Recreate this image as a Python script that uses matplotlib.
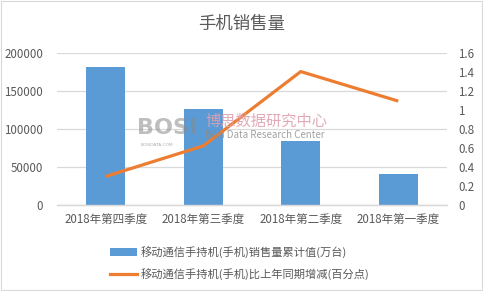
import matplotlib
matplotlib.use("Agg")
import matplotlib.pyplot as plt
from matplotlib.patches import Patch
from matplotlib.lines import Line2D

plt.rcParams['font.family'] = ['Noto Sans CJK SC', 'DejaVu Sans']

categories = ["2018年第四季度", "2018年第三季度", "2018年第二季度", "2018年第一季度"]
sales = [181000, 125700, 83800, 41000]
growth = [0.30, 0.62, 1.40, 1.09]
left_ticks = [0, 50000, 100000, 150000, 200000]
right_ticks = [0, 0.2, 0.4, 0.6, 0.8, 1.0, 1.2, 1.4, 1.6]
right_labels = ["0", "0.2", "0.4", "0.6", "0.8", "1", "1.2", "1.4", "1.6"]
title = "手机销售量"
bar_label = "移动通信手持机(手机)销售量累计值(万台)"
line_label = "移动通信手持机(手机)比上年同期增减(百分点)"

W, H = 483, 291
fig = plt.figure(figsize=(W / 100, H / 100), dpi=100)
fig.patch.set_facecolor("white")

l, r, t, b = 57, 447, 52.5, 205
ax = fig.add_axes([l / W, 1 - b / H, (r - l) / W, (b - t) / H])
ax2 = ax.twinx()

tick_color = "#595959"
grid_color = "#D9D9D9"
bar_color = "#5B9BD5"
line_color = "#ED7D31"

x = list(range(len(categories)))
ax.bar(x, sales, width=0.4, color=bar_color, zorder=2)
ax.set_xlim(-0.5, len(categories) - 0.5)
ax.set_ylim(0, 200000)
ax.set_yticks(left_ticks)
ax.set_yticklabels([str(v) for v in left_ticks])
ax.yaxis.grid(True, color=grid_color, linewidth=0.9)
ax.set_axisbelow(True)
ax.set_xticks(x)
ax.set_xticklabels(categories)
ax.tick_params(axis="both", length=0, colors=tick_color, labelsize=8.3)
ax.tick_params(axis="x", pad=6)
ax.tick_params(axis="y", pad=10)

ax2.plot(x, growth, color=line_color, linewidth=2.3, solid_capstyle="butt", zorder=3)
ax2.set_ylim(0, 1.6)
ax2.set_yticks(right_ticks)
ax2.set_yticklabels(right_labels)
ax2.tick_params(axis="y", length=0, colors=tick_color, labelsize=8.3, pad=8)

for a in (ax, ax2):
    for s in ("top", "left", "right"):
        a.spines[s].set_visible(False)
    a.spines["bottom"].set_color(grid_color)
    a.spines["bottom"].set_linewidth(0.9)

fig.text(0.5, 1 - 24 / H, title, ha="center", va="center", fontsize=12.5, color="#595959")

# watermark
fig.text(137 / W, 1 - 134 / H, "BOSI", fontsize=16, fontweight="bold", color="#8a8a8a",
         alpha=0.55, va="baseline", ha="left", family=["DejaVu Sans"])
fig.text(141 / W, 1 - 144.5 / H, "BOSIDATA.COM", fontsize=3.2, color="#8a8a8a",
         alpha=0.7, va="center", ha="left", family=["DejaVu Sans"])
fig.text(205 / W, 1 - 121 / H, "博思数据研究中心", fontsize=11, color="#e0a0b0",
         alpha=0.9, va="center", ha="left")
fig.text(205 / W, 1 - 135 / H, "Bosi Data Research Center", fontsize=7, color="#8a8a8a",
         alpha=0.8, va="center", ha="left")

handles = [Patch(facecolor=bar_color, edgecolor="none", label=bar_label),
           Line2D([0], [0], color=line_color, linewidth=2.3, label=line_label)]
leg = fig.legend(handles=handles, loc="upper center", bbox_to_anchor=(240 / W, 1 - 236 / H),
                 ncol=1, frameon=False, fontsize=8.1, handlelength=2.4, handleheight=0.6,
                 handletextpad=0.3, labelspacing=0.85, labelcolor=tick_color)

# figure border
fig.add_artist(plt.Rectangle((0.002, 0.003), 0.995, 0.994, transform=fig.transFigure,
                             fill=False, edgecolor="#D9D9D9", linewidth=0.8))

fig.savefig("out.png", dpi=100, facecolor="white")
